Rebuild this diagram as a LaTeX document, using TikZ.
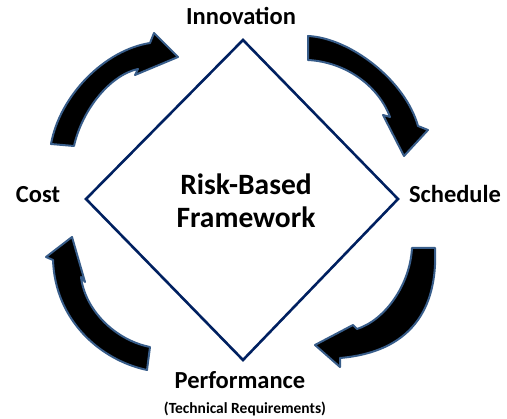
\documentclass[tikz,border=0pt]{standalone}
\usepackage{fontspec}
\setmainfont{Carlito}
\usetikzlibrary{calc, positioning}
\definecolor{navy}{RGB}{0,32,96}
\definecolor{rim}{RGB}{56,93,138}
\tikzset
{%
lbl/.style={font=\bfseries\fontsize{24.5}{29}\selectfont, inner sep=0pt, anchor=base},
sublbl/.style={font=\bfseries\fontsize{15.5}{18}\selectfont, inner sep=0pt, anchor=base},
core/.style={font=\bfseries\fontsize{29.5}{33}\selectfont, align=center, inner sep=0pt},
frame/.style={draw=navy, line width=2.6pt, line join=miter},
bendarrow/.style={fill=black, draw=rim, line width=2pt, line join=round}
}
\begin{document}
\begin{tikzpicture}[x=1pt, y=-1pt]
		\useasboundingbox (0,0) rectangle (507,419);
		
		%Diamond
		\coordinate (top) at (243,40);
		\coordinate (rgt) at (398,199);
		\coordinate (bot) at (243,360);
		\coordinate (lft) at (86,199);
		\draw[frame] (top) -- (rgt) -- (bot) -- (lft) -- cycle;
		\node[core] (rbf) at (246,201) {Risk-Based\\Framework};
		
		%Labels
		\node[lbl] (inno) at (241,25) {Innovation};
		\node[lbl] (sched) at (455,203) {Schedule};
		\node[lbl] (perf) at (240,389) {Performance};
		\node[sublbl] (techreq) at (245,414) {(Technical Requirements)};
		\node[lbl] (cost) at (38,203) {Cost};
		
		%Arrows
		\filldraw[bendarrow] (51,144) .. controls (60,95) and (105,50) .. (150,43)
		-- (154,33) -- (178,57) -- (135,75) -- (138,69)
		.. controls (110,75) and (82,110) .. (74,146) -- cycle;
		\filldraw[bendarrow] (308,36) .. controls (350,38) and (405,80) .. (418,126)
		-- (428,130) -- (404,156) -- (383,115) -- (390,117)
		.. controls (378,85) and (345,62) .. (308,60) -- cycle;
		\filldraw[bendarrow] (435,248) .. controls (438,310) and (410,352) .. (340,358)
		-- (340,367) -- (315,345) -- (353,325) -- (357,329)
		.. controls (385,320) and (410,285) .. (412,248) -- cycle;
		\filldraw[bendarrow] (147,370) .. controls (100,360) and (55,320) .. (53,260)
		-- (46,257) -- (72,237) -- (85,282) -- (81,277)
		.. controls (85,310) and (115,340) .. (150,347) -- cycle;
	\end{tikzpicture}
\end{document}
